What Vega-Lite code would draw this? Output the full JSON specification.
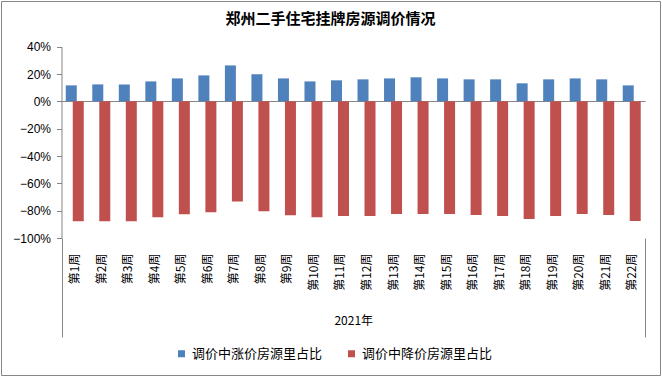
{
  "$schema": "https://vega.github.io/schema/vega-lite/v6.json",
  "width": 659,
  "height": 374,
  "autosize": {"type": "none"},
  "padding": {"left": 1, "top": 1, "right": 2, "bottom": 2},
  "background": "white",
  "title": {
    "text": "郑州二手住宅挂牌房源调价情况",
    "font": "Noto Sans CJK SC",
    "fontSize": 15,
    "fontWeight": "bold",
    "color": "#000000",
    "anchor": "middle",
    "frame": "group",
    "offset": -26
  },
  "data": {
    "values": [
      {"week": "第1周", "up": 0.117, "down": -0.878},
      {"week": "第2周", "up": 0.124, "down": -0.878},
      {"week": "第3周", "up": 0.124, "down": -0.878},
      {"week": "第4周", "up": 0.146, "down": -0.849},
      {"week": "第5周", "up": 0.168, "down": -0.827},
      {"week": "第6周", "up": 0.19, "down": -0.812},
      {"week": "第7周", "up": 0.263, "down": -0.732},
      {"week": "第8周", "up": 0.198, "down": -0.805},
      {"week": "第9周", "up": 0.168, "down": -0.834},
      {"week": "第10周", "up": 0.146, "down": -0.849},
      {"week": "第11周", "up": 0.154, "down": -0.839},
      {"week": "第12周", "up": 0.161, "down": -0.839},
      {"week": "第13周", "up": 0.168, "down": -0.824},
      {"week": "第14周", "up": 0.176, "down": -0.824},
      {"week": "第15周", "up": 0.168, "down": -0.824},
      {"week": "第16周", "up": 0.161, "down": -0.832},
      {"week": "第17周", "up": 0.161, "down": -0.839},
      {"week": "第18周", "up": 0.132, "down": -0.861},
      {"week": "第19周", "up": 0.161, "down": -0.839},
      {"week": "第20周", "up": 0.168, "down": -0.824},
      {"week": "第21周", "up": 0.161, "down": -0.832},
      {"week": "第22周", "up": 0.117, "down": -0.876}
    ]
  },
  "encoding": {
    "x": {
      "field": "week",
      "type": "nominal",
      "sort": null,
      "scale": {"range": [60.5, 644], "paddingInner": 0, "paddingOuter": 0},
      "axis": {
        "title": "2021年",
        "titleFont": "Noto Sans CJK SC",
        "titleFontSize": 12,
        "titleFontWeight": "normal",
        "titleColor": "#000000",
        "titleY": 82,
        "titleBaseline": "middle",
        "offset": -137,
        "domain": false,
        "tickBand": "extent",
        "tickSize": 99,
        "tickColor": "#868686",
        "tickOpacity": {"condition": {"test": "datum.label === '' || datum.value === '第22周'", "value": 1}, "value": 0},
        "labelAngle": 270,
        "labelPadding": -84,
        "labelOverlap": false,
        "labelFont": "Noto Sans CJK SC",
        "labelFontSize": 12,
        "labelColor": "#000000",
        "labelAlign": "right",
        "labelBaseline": "middle"
      }
    }
  },
  "layer": [
    {
      "mark": {"type": "bar", "width": 11, "xOffset": -3.5},
      "encoding": {
        "y": {
          "field": "up",
          "type": "quantitative",
          "scale": {"domain": [-1, 0.4], "range": [237, 45.7], "nice": false},
          "axis": {
            "values": [-1, -0.8, -0.6, -0.4, -0.2, 0, 0.2, 0.4],
            "format": ".0%",
            "offset": -60.5,
            "title": null,
            "domainColor": "#868686",
            "tickColor": "#868686",
            "tickSize": 5,
            "labelPadding": 6,
            "labelFont": "Liberation Sans",
            "labelFontSize": 12,
            "labelColor": "#000000",
            "grid": true,
            "gridColor": "#868686",
            "gridOpacity": {"condition": {"test": "datum.value === 0", "value": 1}, "value": 0}
          }
        },
        "color": {
          "datum": "调价中涨价房源里占比",
          "scale": {"domain": ["调价中涨价房源里占比", "调价中降价房源里占比"], "range": ["#4F81BD", "#C0504D"]},
          "legend": {
            "orient": "none",
            "legendX": 174,
            "legendY": 346,
            "direction": "horizontal",
            "title": null,
            "symbolType": "square",
            "symbolSize": 49,
            "symbolStrokeWidth": 0,
            "labelFont": "Noto Sans CJK SC",
            "labelFontSize": 13,
            "labelColor": "#000000",
            "columnPadding": 22,
            "labelOffset": 4
          }
        }
      }
    },
    {
      "mark": {"type": "bar", "width": 11, "xOffset": 3.5},
      "encoding": {
        "y": {"field": "down", "type": "quantitative"},
        "color": {"datum": "调价中降价房源里占比"}
      }
    }
  ],
  "config": {
    "view": {"stroke": "#868686", "strokeWidth": 1}
  }
}
